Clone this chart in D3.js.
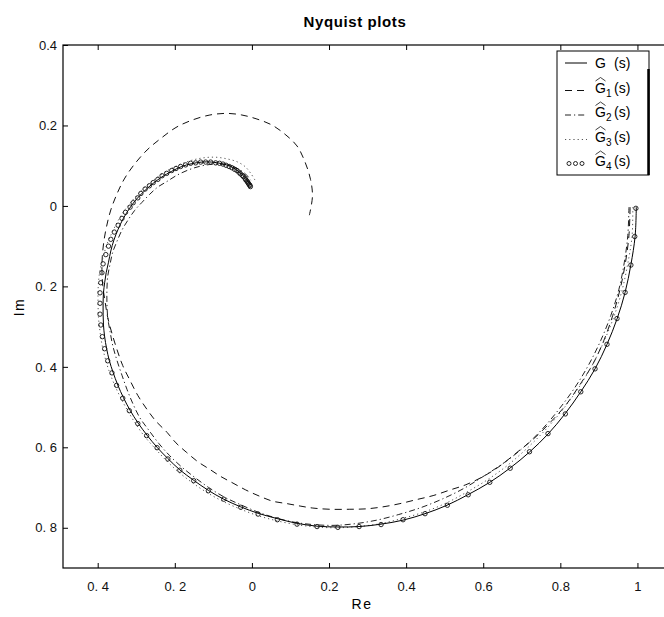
<!DOCTYPE html>
<html>
<head>
<meta charset="utf-8">
<script src="https://cdn.jsdelivr.net/npm/d3@7"></script>
<style>
  body { margin: 0; background: #fff; }
  text { font-family: "Liberation Sans", Arial, sans-serif; }
</style>
</head>
<body>
<svg id="chart" width="664" height="617"></svg>
<script>
// tick values + the labels as printed on the figure (minus signs lost)
var xTicks = [-0.4, -0.2, 0, 0.2, 0.4, 0.6, 0.8, 1];
var xTickLabels = ["0. 4", "0. 2", "0", "0.2", "0.4", "0.6", "0.8", "1"];
var yTicks = [0.4, 0.2, 0, -0.2, -0.4, -0.6, -0.8];
var yTickLabels = ["0.4", "0.2", "0", "0. 2", "0. 4", "0. 6", "0. 8"];

var seriesNames = ["G", "G1", "G2", "G3", "G4"];

// G(s) - solid, [Re, Im]
var G = [[0.997,-0.003],[0.994,-0.075],[0.983,-0.146],[0.968,-0.215],[0.947,-0.281],[0.921,-0.344],
  [0.890,-0.405],[0.853,-0.462],[0.812,-0.517],[0.768,-0.567],[0.721,-0.611],[0.669,-0.652],
  [0.617,-0.687],[0.560,-0.718],[0.506,-0.744],[0.449,-0.765],[0.392,-0.781],[0.335,-0.791],
  [0.278,-0.797],[0.223,-0.798],[0.169,-0.796],[0.117,-0.789],[0.065,-0.777],[0.016,-0.764],
  [-0.029,-0.748],[-0.073,-0.729],[-0.113,-0.707],[-0.151,-0.682],[-0.187,-0.656],[-0.218,-0.628],
  [-0.246,-0.600],[-0.272,-0.570],[-0.295,-0.540],[-0.316,-0.508],[-0.333,-0.477],[-0.348,-0.445],
  [-0.360,-0.414],[-0.370,-0.384],[-0.377,-0.354],[-0.382,-0.325],[-0.385,-0.296],[-0.386,-0.269],
  [-0.386,-0.242],[-0.385,-0.216],[-0.382,-0.191],[-0.378,-0.166],[-0.372,-0.140],[-0.366,-0.112],
  [-0.358,-0.085],[-0.347,-0.058],[-0.334,-0.032],[-0.318,-0.007],[-0.301,0.015],[-0.281,0.035],
  [-0.259,0.054],[-0.235,0.071],[-0.208,0.086],[-0.182,0.098],[-0.156,0.105],[-0.130,0.109],
  [-0.104,0.109],[-0.078,0.105],[-0.054,0.098],[-0.034,0.085],[-0.018,0.071],[-0.003,0.052]];

// G1 hat - dashed
var G1 = [[0.981,-0.003],[0.978,-0.073],[0.969,-0.140],[0.955,-0.207],[0.936,-0.272],[0.913,-0.334],
  [0.885,-0.392],[0.851,-0.444],[0.815,-0.494],[0.776,-0.536],[0.734,-0.576],[0.687,-0.613],
  [0.641,-0.648],[0.599,-0.673],[0.555,-0.693],[0.514,-0.706],[0.470,-0.720],[0.427,-0.730],
  [0.384,-0.740],[0.340,-0.748],[0.296,-0.753],[0.254,-0.754],[0.202,-0.754],[0.158,-0.751],
  [0.125,-0.746],[0.091,-0.740],[0.054,-0.734],[0.021,-0.722],[-0.016,-0.706],[-0.049,-0.689],
  [-0.080,-0.673],[-0.109,-0.655],[-0.140,-0.636],[-0.169,-0.613],[-0.197,-0.589],[-0.220,-0.563],
  [-0.249,-0.535],[-0.272,-0.506],[-0.296,-0.471],[-0.316,-0.434],[-0.335,-0.397],[-0.350,-0.357],
  [-0.363,-0.317],[-0.374,-0.277],[-0.381,-0.237],[-0.387,-0.197],[-0.389,-0.158],[-0.388,-0.125],
  [-0.384,-0.088],[-0.377,-0.051],[-0.366,-0.010],[-0.350,0.030],[-0.331,0.067],[-0.306,0.102],
  [-0.272,0.139],[-0.236,0.168],[-0.197,0.195],[-0.156,0.213],[-0.109,0.226],[-0.065,0.230],
  [-0.026,0.226],[0.013,0.216],[0.052,0.201],[0.086,0.178],[0.117,0.149],[0.137,0.111],
  [0.152,0.066],[0.157,0.024],[0.149,-0.023]];

// G2 hat - dash-dot
var G2 = [[0.978,-0.003],[0.975,-0.073],[0.966,-0.140],[0.952,-0.207],[0.931,-0.272],[0.905,-0.334],
  [0.874,-0.394],[0.838,-0.451],[0.796,-0.506],[0.752,-0.556],[0.706,-0.599],[0.656,-0.637],
  [0.604,-0.670],[0.550,-0.702],[0.495,-0.728],[0.438,-0.750],[0.381,-0.767],[0.324,-0.781],
  [0.267,-0.790],[0.213,-0.794],[0.158,-0.792],[0.109,-0.786],[0.060,-0.775],[0.013,-0.760],
  [-0.031,-0.742],[-0.073,-0.723],[-0.112,-0.700],[-0.148,-0.675],[-0.182,-0.649],[-0.213,-0.621],
  [-0.241,-0.591],[-0.267,-0.558],[-0.291,-0.526],[-0.309,-0.491],[-0.324,-0.456],[-0.337,-0.421],
  [-0.350,-0.384],[-0.361,-0.347],[-0.368,-0.312],[-0.374,-0.277],[-0.376,-0.242],[-0.376,-0.207],
  [-0.374,-0.175],[-0.368,-0.145],[-0.361,-0.115],[-0.350,-0.088],[-0.337,-0.060],[-0.322,-0.036],
  [-0.304,-0.011],[-0.285,0.009],[-0.265,0.029],[-0.244,0.047],[-0.220,0.061],[-0.195,0.076],
  [-0.166,0.089],[-0.137,0.098],[-0.109,0.103],[-0.080,0.104],[-0.054,0.100],[-0.034,0.091],
  [-0.016,0.079],[-0.003,0.064]];

// G3 hat - dotted
var G3 = [[0.988,-0.003],[0.986,-0.075],[0.975,-0.143],[0.960,-0.210],[0.939,-0.275],[0.913,-0.337],
  [0.882,-0.397],[0.846,-0.454],[0.804,-0.509],[0.760,-0.558],[0.713,-0.603],[0.664,-0.644],
  [0.612,-0.680],[0.558,-0.711],[0.503,-0.739],[0.446,-0.761],[0.389,-0.777],[0.332,-0.790],
  [0.275,-0.797],[0.220,-0.800],[0.166,-0.798],[0.114,-0.792],[0.062,-0.782],[0.013,-0.769],
  [-0.034,-0.752],[-0.078,-0.733],[-0.119,-0.711],[-0.156,-0.687],[-0.192,-0.660],[-0.223,-0.632],
  [-0.252,-0.602],[-0.280,-0.571],[-0.304,-0.538],[-0.324,-0.506],[-0.342,-0.474],[-0.358,-0.441],
  [-0.371,-0.409],[-0.381,-0.377],[-0.389,-0.344],[-0.394,-0.312],[-0.398,-0.277],[-0.399,-0.245],
  [-0.399,-0.212],[-0.397,-0.180],[-0.392,-0.150],[-0.384,-0.120],[-0.374,-0.090],[-0.361,-0.063],
  [-0.348,-0.038],[-0.332,-0.013],[-0.314,0.009],[-0.296,0.029],[-0.275,0.049],[-0.254,0.065],
  [-0.231,0.081],[-0.205,0.095],[-0.179,0.106],[-0.150,0.115],[-0.122,0.120],[-0.093,0.121],
  [-0.065,0.117],[-0.039,0.110],[-0.018,0.098],[-0.003,0.081],[0.008,0.064]];

// G4 hat - circle markers only
var G4 = [[0.996,-0.006],[0.993,-0.076],[0.983,-0.147],[0.968,-0.215],[0.947,-0.280],[0.921,-0.344],
  [0.890,-0.405],[0.853,-0.462],[0.813,-0.517],[0.768,-0.566],[0.720,-0.611],[0.670,-0.652],
  [0.617,-0.687],[0.561,-0.718],[0.507,-0.744],[0.449,-0.765],[0.392,-0.780],[0.335,-0.792],
  [0.278,-0.797],[0.223,-0.799],[0.169,-0.797],[0.117,-0.791],[0.066,-0.780],[0.016,-0.766],
  [-0.029,-0.749],[-0.073,-0.729],[-0.113,-0.708],[-0.151,-0.683],[-0.187,-0.657],[-0.218,-0.629],
  [-0.246,-0.601],[-0.273,-0.571],[-0.296,-0.541],[-0.318,-0.509],[-0.335,-0.478],[-0.351,-0.446],
  [-0.363,-0.415],[-0.374,-0.385],[-0.382,-0.355],[-0.388,-0.325],[-0.392,-0.296],[-0.394,-0.269],
  [-0.394,-0.242],[-0.394,-0.216],[-0.392,-0.191],[-0.389,-0.166],[-0.386,-0.144],[-0.379,-0.121],
  [-0.372,-0.100],[-0.366,-0.083],[-0.357,-0.065],[-0.347,-0.048],[-0.337,-0.031],[-0.328,-0.016],
  [-0.316,-0.003],[-0.308,0.008],[-0.296,0.020],[-0.288,0.031],[-0.277,0.042],[-0.266,0.050],
  [-0.256,0.058],[-0.244,0.066],[-0.233,0.075],[-0.221,0.081],[-0.208,0.088],[-0.197,0.093],
  [-0.185,0.098],[-0.172,0.102],[-0.159,0.106],[-0.146,0.107],[-0.133,0.109],[-0.120,0.109],
  [-0.107,0.109],[-0.094,0.107],[-0.084,0.106],[-0.075,0.104],[-0.067,0.101],[-0.059,0.098],
  [-0.052,0.095],[-0.045,0.091],[-0.039,0.088],[-0.034,0.084],[-0.030,0.080],[-0.025,0.076],
  [-0.022,0.073],[-0.018,0.069],[-0.016,0.065],[-0.013,0.062],[-0.011,0.059],[-0.009,0.056],
  [-0.007,0.053],[-0.005,0.051],[-0.004,0.048]];

var svg = d3.select("#chart");
var pLeft = 63, pRight = 676, pTop = 45, pBottom = 568;

var x = d3.scaleLinear().domain([-0.49, 1.1]).range([pLeft, pRight]);
var y = d3.scaleLinear().domain([-0.9, 0.4]).range([pBottom, pTop]);

var line = d3.line()
    .curve(d3.curveCatmullRom.alpha(0.5))
    .x(function(d) { return x(d[0]); })
    .y(function(d) { return y(d[1]); });

// title and axis labels
svg.append("text")
    .attr("x", 355).attr("y", 27)
    .attr("text-anchor", "middle")
    .style("font-size", "15px").style("font-weight", "bold")
    .style("letter-spacing", "0.6px")
    .text("Nyquist plots");

svg.append("text")
    .attr("x", 362).attr("y", 609)
    .attr("text-anchor", "middle")
    .style("font-size", "14px").style("letter-spacing", "1.5px")
    .text("Re");

svg.append("text")
    .attr("transform", "translate(24,307) rotate(-90)")
    .attr("text-anchor", "middle")
    .style("font-size", "14px").style("letter-spacing", "1.5px")
    .text("Im");

// axes, ticks pointing in
var xAxis = svg.append("g")
    .attr("transform", "translate(0," + pBottom + ")")
    .call(d3.axisBottom(x).tickValues(xTicks)
        .tickFormat(function(d, i) { return xTickLabels[i]; })
        .tickSizeInner(-5).tickSizeOuter(0).tickPadding(14));
var xTop = svg.append("g")
    .attr("transform", "translate(0," + pTop + ")")
    .call(d3.axisTop(x).tickValues(xTicks).tickFormat("")
        .tickSizeInner(-5).tickSizeOuter(0));
var yAxis = svg.append("g")
    .attr("transform", "translate(" + pLeft + ",0)")
    .call(d3.axisLeft(y).tickValues(yTicks)
        .tickFormat(function(d, i) { return yTickLabels[i]; })
        .tickSizeInner(-5).tickSizeOuter(0).tickPadding(6));

[xAxis, xTop, yAxis].forEach(function(a) {
    a.select(".domain").remove();
    a.selectAll("line").attr("stroke", "#000");
    a.selectAll("text").style("font-size", "13px").attr("fill", "#111")
        .style("font-family", "'Liberation Sans', Arial, sans-serif");
});

svg.append("rect")
    .attr("x", pLeft).attr("y", pTop)
    .attr("width", pRight - pLeft).attr("height", pBottom - pTop)
    .attr("fill", "none").attr("stroke", "#000").attr("stroke-width", 1.2);

// curves
var styles = {
    G:  {dash: null, color: "#000", w: 1},
    G1: {dash: "7,5", color: "#111", w: 1},
    G2: {dash: "6,3,1.2,3", color: "#222", w: 1},
    G3: {dash: "1.2,3", color: "#555", w: 1}
};
var lineData = {G: G, G1: G1, G2: G2, G3: G3};

var plot = svg.append("g");
["G1", "G2", "G3", "G"].forEach(function(k) {
    plot.append("path")
        .datum(lineData[k])
        .attr("d", line)
        .attr("fill", "none")
        .attr("stroke", styles[k].color)
        .attr("stroke-width", styles[k].w)
        .attr("stroke-dasharray", styles[k].dash);
});

plot.selectAll(".g4")
    .data(G4)
    .enter().append("circle")
    .attr("class", "g4")
    .attr("cx", function(d) { return x(d[0]); })
    .attr("cy", function(d) { return y(d[1]); })
    .attr("r", 2.2)
    .attr("fill", "none")
    .attr("stroke", "#111")
    .attr("stroke-width", 0.9);

// legend
var lg = svg.append("g").attr("transform", "translate(557,51)");
lg.append("rect")
    .attr("width", 92).attr("height", 124)
    .attr("fill", "#fff").attr("stroke", "#000").attr("stroke-width", 1);
lg.append("line")
    .attr("x1", 91.5).attr("x2", 91.5).attr("y1", 18).attr("y2", 124)
    .attr("stroke", "#000").attr("stroke-width", 2.5);

var rowY = [12, 36.5, 61, 85.5, 110];
seriesNames.forEach(function(k, i) {
    var ry = rowY[i];
    if (k === "G4") {
        lg.selectAll(".lgc").data([0, 1, 2]).enter().append("circle")
            .attr("cx", function(d) { return 12 + d * 6.5; })
            .attr("cy", ry + 2.5)
            .attr("r", 2)
            .attr("fill", "none").attr("stroke", "#111").attr("stroke-width", 0.9);
    } else {
        lg.append("line")
            .attr("x1", 8).attr("x2", 30)
            .attr("y1", ry + (k === "G" ? 0 : 3)).attr("y2", ry + (k === "G" ? 0 : 3))
            .attr("stroke", styles[k].color).attr("stroke-width", 1)
            .attr("stroke-dasharray", styles[k].dash);
    }
    var t = lg.append("text").attr("x", 38).attr("y", ry + 5).style("font-size", "14px");
    t.append("tspan").text("G");
    if (k !== "G") {
        t.append("tspan").attr("dy", 4).style("font-size", "10px").text(k.slice(1));
        t.append("tspan").attr("x", 57).attr("dy", -4).text("(s)");
        lg.append("path")
            .attr("d", "M38.5," + (ry - 6.5) + "L43.5," + (ry - 10) + "L48.5," + (ry - 6.5))
            .attr("fill", "none").attr("stroke", "#111").attr("stroke-width", 0.8);
    } else {
        t.append("tspan").attr("x", 57).text("(s)");
    }
});
</script>
</body>
</html>
